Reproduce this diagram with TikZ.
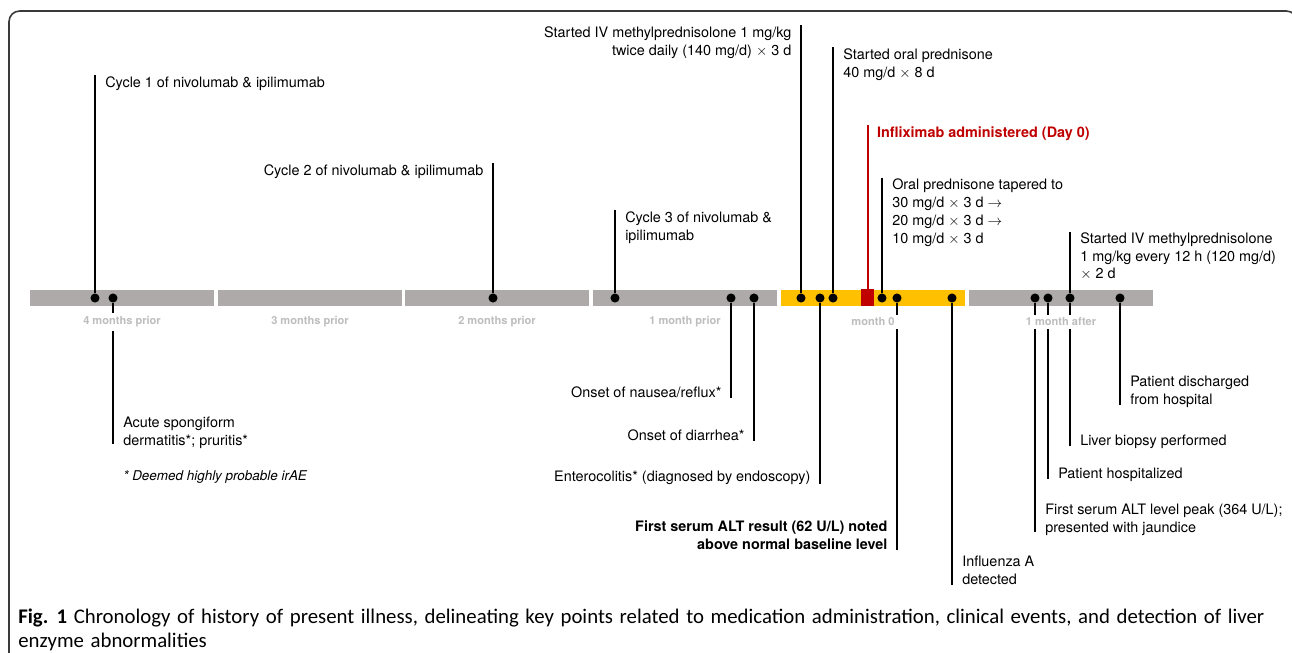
\documentclass[tikz,border=0pt]{standalone}
\usepackage{fontspec}
\setmainfont{TeX Gyre Heros}
\newfontfamily\capfont{Carlito}
\newcommand\capstyle{\capfont\fontsize{15.6}{18}\selectfont\spaceskip=5pt\relax}
\usetikzlibrary{positioning}

\definecolor{bargray}{HTML}{ADAAA9}
\definecolor{bargold}{HTML}{FFC000}
\definecolor{dayred}{HTML}{C00000}
\definecolor{monthgray}{HTML}{BDBDBD}
\definecolor{framegray}{HTML}{3A3A3A}

\tikzset{
  seg/.style={rectangle, inner sep=0pt, minimum width=138pt, minimum height=12pt},
  dot/.style={circle, fill=black, inner sep=0pt, minimum size=6.8pt},
  stem/.style={line width=1.5pt},
  event/.style={inner sep=0pt, align=left, font=\fontsize{10.8}{13.3}\selectfont},
  month/.style={inner sep=2.5pt, fill=white, text=monthgray, font=\fontsize{8.3}{10}\selectfont\bfseries},
}

\begin{document}
\begin{tikzpicture}[x=0.75pt, y=-0.75pt]
\useasboundingbox (0,0) rectangle (1292,653);
\begin{scope}
\clip (0,0) rectangle (1292,653);
\draw[framegray, line width=1.2pt, rounded corners=8pt] (9,660) -- (9,11) -- (1297,11) -- (1297,660);
\end{scope}

\node[seg, fill=bargray] (m4) at (122,298) {};
\node[seg, fill=bargray] (m3) at (310,298) {};
\node[seg, fill=bargray] (m2) at (497,298) {};
\node[seg, fill=bargray] (m1) at (685,298) {};
\node[seg, fill=bargold] (m0) at (873,298) {};
\node[seg, fill=bargray] (mp) at (1061,298) {};
\node[rectangle, fill=dayred, inner sep=0pt, minimum width=9.75pt, minimum height=12.75pt] (inf) at (867.5,297.5) {};

\node[dot] (c1) at (95,298) {};
\node[dot] (derm) at (113,298) {};
\node[dot] (c2) at (493,298) {};
\node[dot] (c3) at (615,298) {};
\node[dot] (naus) at (731,298) {};
\node[dot] (diar) at (754,298) {};
\node[dot] (ivmp) at (801,298) {};
\node[dot] (ento) at (820,298) {};
\node[dot] (oral) at (833,298) {};
\node[dot] (taper) at (882,298) {};
\node[dot] (alt) at (897,298) {};
\node[dot] (flu) at (952,298) {};
\node[dot] (peak) at (1035,298) {};
\node[dot] (hosp) at (1048,298) {};
\node[dot] (biop) at (1070,298) {};
\node[dot] (disc) at (1120,298) {};

\coordinate (c1t) at (95,75);
\coordinate (c2t) at (493,163);
\coordinate (c3t) at (615,210);
\coordinate (ivmpt) at (801,25);
\coordinate (oralt) at (833,47);
\coordinate (inft) at (867.5,125);
\coordinate (tapert) at (882,178);
\coordinate (ivt) at (1070,232);

\coordinate (dermb) at (113,444);
\coordinate (nausb) at (731,398);
\coordinate (diarb) at (754,441);
\coordinate (entob) at (820,484);
\coordinate (altb) at (897,550);
\coordinate (flub) at (952,585);
\coordinate (peakb) at (1035,532);
\coordinate (hospb) at (1048,479);
\coordinate (biopb) at (1070,446);
\coordinate (discb) at (1120,405);

\draw[stem] (c1) -- (c1t);
\draw[stem] (c2) -- (c2t);
\draw[stem] (c3) -- (c3t);
\draw[stem] (ivmp) -- (ivmpt);
\draw[stem] (oral) -- (oralt);
\draw[stem, dayred] (inf.north) -- (inft);
\draw[stem] (taper) -- (tapert);
\draw[stem] (biop) -- (ivt);

\draw[stem] (derm) -- (dermb);
\draw[stem] (naus) -- (nausb);
\draw[stem] (diar) -- (diarb);
\draw[stem] (ento) -- (entob);
\draw[stem] (alt) -- (altb);
\draw[stem] (flu) -- (flub);
\draw[stem] (peak) -- (peakb);
\draw[stem] (hosp) -- (hospb);
\draw[stem] (biop) -- (biopb);
\draw[stem] (disc) -- (discb);

\node[month] (m4l) at (122,322) {4 months prior};
\node[month] (m3l) at (310,322) {3 months prior};
\node[month] (m2l) at (497,322) {2 months prior};
\node[month] (m1l) at (685,322) {1 month prior};
\node[month] (m0l) at (873,322) {month 0};
\node[month] (mpl) at (1061,322) {1 month after};

\node[event, below right=1.2pt and 7.5pt of c1t] (c1l) {Cycle 1 of nivolumab \& ipilimumab};
\node[event, below left=1.2pt and 7pt of c2t] (c2l) {Cycle 2 of nivolumab \& ipilimumab};
\node[event, below right=1.2pt and 7.5pt of c3t] (c3l) {Cycle 3 of nivolumab \&\\ipilimumab};
\node[event, below left=1.2pt and 7pt of ivmpt, align=right] (ivmpl) {Started IV methylprednisolone 1 mg/kg\\twice daily (140 mg/d) $\times$ 3 d};
\node[event, below right=1.2pt and 7.5pt of oralt] (oraml) {Started oral prednisone\\40 mg/d $\times$ 8 d};
\node[event, below right=1.2pt and 7pt of inft, text=dayred, font=\fontsize{10.8}{13.3}\selectfont\bfseries] (infl) {Infliximab administered (Day 0)};
\node[event, below right=0.6pt and 7.5pt of tapert] (taperl) {Oral prednisone tapered to\\30 mg/d $\times$ 3 d $\rightarrow$\\20 mg/d $\times$ 3 d $\rightarrow$\\10 mg/d $\times$ 3 d};
\node[event, below right=0.3pt and 7.5pt of ivt] (ivl) {Started IV methylprednisolone\\1 mg/kg every 12 h (120 mg/d)\\$\times$ 2 d};

\node[event, above right=-3.8pt and 7.5pt of dermb] (derml) {Acute spongiform\\dermatitis*; pruritis*};
\node[event, anchor=north west, font=\fontsize{10.1}{12}\selectfont\itshape] (note) at (123,470) {* Deemed highly probable irAE};
\node[event, above left=0pt and 7pt of nausb] (nausl) {Onset of nausea/reflux*};
\node[event, above left=0pt and 7pt of diarb] (diarl) {Onset of diarrhea*};
\node[event, above left=-0.6pt and 7pt of entob] (entol) {Enterocolitis* (diagnosed by endoscopy)};
\node[event, above left=0pt and 7pt of altb, align=right, font=\fontsize{10.8}{13.3}\selectfont\bfseries] (altl) {First serum ALT result (62 U/L) noted\\above normal baseline level};
\node[event, above right=0pt and 7.5pt of flub] (flul) {Influenza A\\detected};
\node[event, above right=-3pt and 7.5pt of peakb] (peakl) {First serum ALT level peak (364 U/L);\\presented with jaundice};
\node[event, above right=-2.3pt and 7.5pt of hospb] (hospl) {Patient hospitalized};
\node[event, above right=-2.3pt and 7.5pt of biopb] (biopl) {Liver biopsy performed};
\node[event, above right=-2.3pt and 7.5pt of discb] (discl) {Patient discharged\\from hospital};

\node[anchor=north west, inner sep=0pt, align=left, font=\capstyle] (cap) at (18,609) {\textbf{Fig. 1} Chronology of history of present illness, delineating key points related to medication administration, clinical events, and detection of liver\\enzyme abnormalities};
\end{tikzpicture}
\end{document}
